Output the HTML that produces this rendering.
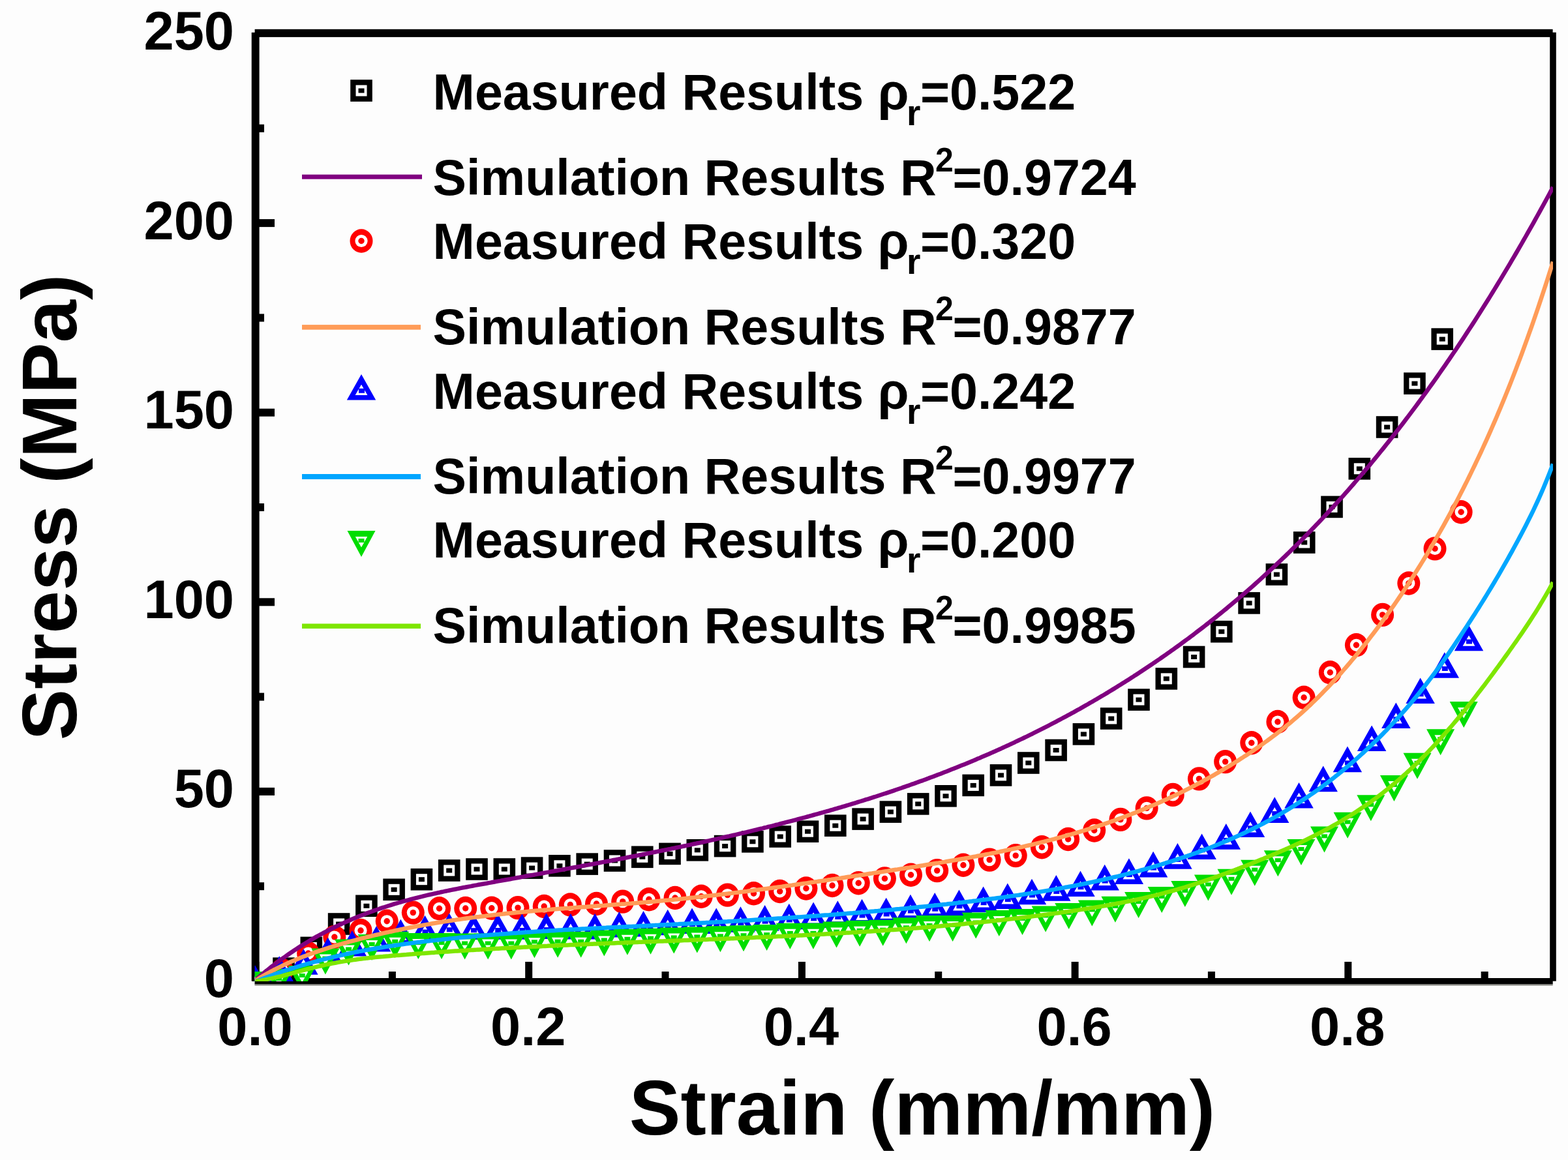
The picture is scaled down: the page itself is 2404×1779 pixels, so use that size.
<!DOCTYPE html>
<html><head><meta charset="utf-8"><title>Stress-Strain</title>
<style>
html,body{margin:0;padding:0;background:#fff;overflow:hidden;}
svg{display:block;}
text{font-family:"Liberation Sans",Arial,sans-serif;font-weight:bold;fill:#000;}
</style></head><body>
<svg width="2404" height="1779" viewBox="0 0 2404 1779">
<rect x="0" y="0" width="2404" height="1779" fill="#fdfdfd"/>

<g fill="#000">
<rect x="390.6" y="44.8" width="1990" height="12.1"/>
<rect x="385.7" y="49.8" width="11.9" height="1454.8"/>
<rect x="390.5" y="1500" width="1990.2" height="9.6"/>
<rect x="2376.2" y="49.7" width="9.6" height="1455"/>
<rect x="390.5" y="1509.6" width="1990.2" height="2" fill="#8c8c86"/>
<rect x="386" y="1353.2" width="19" height="12"/>
<rect x="386" y="1207.9" width="35" height="12"/>
<rect x="386" y="1062.6" width="19" height="12"/>
<rect x="386" y="917.3" width="35" height="12"/>
<rect x="386" y="772.0" width="19" height="12"/>
<rect x="386" y="626.7" width="35" height="12"/>
<rect x="386" y="481.4" width="19" height="12"/>
<rect x="386" y="336.1" width="35" height="12"/>
<rect x="386" y="190.8" width="19" height="12"/>
<rect x="386.5" y="1475" width="11" height="30"/>
<rect x="595.9" y="1490" width="11" height="15"/>
<rect x="805.2" y="1475" width="11" height="30"/>
<rect x="1014.5" y="1490" width="11" height="15"/>
<rect x="1223.9" y="1475" width="11" height="30"/>
<rect x="1433.2" y="1490" width="11" height="15"/>
<rect x="1642.6" y="1475" width="11" height="30"/>
<rect x="1851.9" y="1490" width="11" height="15"/>
<rect x="2061.3" y="1475" width="11" height="30"/>
<rect x="2270.7" y="1490" width="11" height="15"/>
</g>
<defs>
<clipPath id="pc"><rect x="390.5" y="51" width="1990.5" height="1454"/></clipPath>
<g id="msq"><rect x="-16.8" y="-16.8" width="33.6" height="33.6" fill="#000"/><rect x="-8.5" y="-8.5" width="17" height="17" fill="#fff"/><rect x="-4.5" y="-3.5" width="9" height="7" fill="#000"/></g>
<g id="mci"><ellipse rx="17.5" ry="18.2" fill="#ff0000"/><circle r="9.6" fill="#fff"/><circle r="4.7" fill="#ff0000"/></g>
<g id="mut"><polygon points="0,-19.8 -22.2,19.8 22.2,19.8" fill="#0000ff"/><polygon points="0,-4 -9.4,12.3 9.4,12.3" fill="#fff"/><rect x="-4" y="2" width="9" height="7" fill="#0000ff"/></g>
<g id="mdt"><polygon points="0,20 -21.5,-20 21.5,-20" fill="#00dd00"/><polygon points="0,5.5 -9.2,-11 9.2,-11" fill="#fff"/><rect x="-4.5" y="-8" width="9" height="6" fill="#00dd00"/></g>
</defs>
<g clip-path="url(#pc)">
<use href="#msq" x="392.7" y="1530.0"/>
<use href="#msq" x="435.0" y="1485.2"/>
<use href="#msq" x="477.3" y="1453.4"/>
<use href="#msq" x="519.6" y="1417.0"/>
<use href="#msq" x="561.9" y="1389.3"/>
<use href="#msq" x="604.1" y="1364.3"/>
<use href="#msq" x="646.4" y="1348.7"/>
<use href="#msq" x="688.7" y="1335.0"/>
<use href="#msq" x="731.0" y="1333.0"/>
<use href="#msq" x="773.3" y="1333.0"/>
<use href="#msq" x="815.6" y="1331.1"/>
<use href="#msq" x="857.9" y="1327.8"/>
<use href="#msq" x="900.2" y="1325.1"/>
<use href="#msq" x="942.5" y="1320.0"/>
<use href="#msq" x="984.8" y="1314.3"/>
<use href="#msq" x="1027.0" y="1309.4"/>
<use href="#msq" x="1069.3" y="1303.8"/>
<use href="#msq" x="1111.6" y="1297.6"/>
<use href="#msq" x="1153.9" y="1290.8"/>
<use href="#msq" x="1196.2" y="1283.0"/>
<use href="#msq" x="1238.5" y="1275.2"/>
<use href="#msq" x="1280.8" y="1266.2"/>
<use href="#msq" x="1323.1" y="1256.1"/>
<use href="#msq" x="1365.4" y="1245.1"/>
<use href="#msq" x="1407.7" y="1232.9"/>
<use href="#msq" x="1450.0" y="1220.8"/>
<use href="#msq" x="1492.2" y="1204.4"/>
<use href="#msq" x="1534.5" y="1188.9"/>
<use href="#msq" x="1576.8" y="1170.0"/>
<use href="#msq" x="1619.1" y="1150.5"/>
<use href="#msq" x="1661.4" y="1125.9"/>
<use href="#msq" x="1703.7" y="1102.0"/>
<use href="#msq" x="1746.0" y="1073.1"/>
<use href="#msq" x="1788.3" y="1040.9"/>
<use href="#msq" x="1830.6" y="1007.5"/>
<use href="#msq" x="1872.8" y="968.7"/>
<use href="#msq" x="1915.1" y="924.9"/>
<use href="#msq" x="1957.4" y="881.0"/>
<use href="#msq" x="1999.7" y="832.0"/>
<use href="#msq" x="2042.0" y="777.4"/>
<use href="#msq" x="2084.3" y="718.8"/>
<use href="#msq" x="2126.6" y="655.0"/>
<use href="#msq" x="2168.9" y="588.1"/>
<use href="#msq" x="2211.2" y="520.1"/>
<use href="#mci" x="392.3" y="1530.0"/>
<use href="#mci" x="432.5" y="1488.0"/>
<use href="#mci" x="472.6" y="1462.0"/>
<use href="#mci" x="512.8" y="1437.0"/>
<use href="#mci" x="553.0" y="1427.0"/>
<use href="#mci" x="593.2" y="1412.8"/>
<use href="#mci" x="633.3" y="1399.6"/>
<use href="#mci" x="673.5" y="1393.3"/>
<use href="#mci" x="713.7" y="1393.0"/>
<use href="#mci" x="753.8" y="1392.7"/>
<use href="#mci" x="794.0" y="1392.1"/>
<use href="#mci" x="834.2" y="1390.0"/>
<use href="#mci" x="874.3" y="1387.5"/>
<use href="#mci" x="914.5" y="1386.0"/>
<use href="#mci" x="954.7" y="1382.6"/>
<use href="#mci" x="994.9" y="1379.3"/>
<use href="#mci" x="1035.0" y="1377.0"/>
<use href="#mci" x="1075.2" y="1374.8"/>
<use href="#mci" x="1115.4" y="1372.6"/>
<use href="#mci" x="1155.5" y="1370.3"/>
<use href="#mci" x="1195.7" y="1367.0"/>
<use href="#mci" x="1235.9" y="1362.5"/>
<use href="#mci" x="1276.0" y="1358.0"/>
<use href="#mci" x="1316.2" y="1354.2"/>
<use href="#mci" x="1356.4" y="1347.4"/>
<use href="#mci" x="1396.5" y="1341.8"/>
<use href="#mci" x="1436.7" y="1335.1"/>
<use href="#mci" x="1476.9" y="1326.7"/>
<use href="#mci" x="1517.1" y="1318.6"/>
<use href="#mci" x="1557.2" y="1312.1"/>
<use href="#mci" x="1597.4" y="1299.2"/>
<use href="#mci" x="1637.6" y="1287.0"/>
<use href="#mci" x="1677.7" y="1273.5"/>
<use href="#mci" x="1717.9" y="1256.9"/>
<use href="#mci" x="1758.1" y="1239.4"/>
<use href="#mci" x="1798.2" y="1218.9"/>
<use href="#mci" x="1838.4" y="1194.4"/>
<use href="#mci" x="1878.6" y="1168.1"/>
<use href="#mci" x="1918.8" y="1139.2"/>
<use href="#mci" x="1958.9" y="1107.0"/>
<use href="#mci" x="1999.1" y="1069.8"/>
<use href="#mci" x="2039.3" y="1031.3"/>
<use href="#mci" x="2079.4" y="989.3"/>
<use href="#mci" x="2119.6" y="942.9"/>
<use href="#mci" x="2159.8" y="894.5"/>
<use href="#mci" x="2200.0" y="841.4"/>
<use href="#mci" x="2240.1" y="785.3"/>
<use href="#mut" x="391.0" y="1500.0"/>
<use href="#mut" x="428.2" y="1486.0"/>
<use href="#mut" x="465.4" y="1475.0"/>
<use href="#mut" x="502.7" y="1457.5"/>
<use href="#mut" x="539.9" y="1446.7"/>
<use href="#mut" x="577.1" y="1439.7"/>
<use href="#mut" x="614.3" y="1429.5"/>
<use href="#mut" x="651.5" y="1423.6"/>
<use href="#mut" x="688.8" y="1420.3"/>
<use href="#mut" x="726.0" y="1421.2"/>
<use href="#mut" x="763.2" y="1421.0"/>
<use href="#mut" x="800.4" y="1421.0"/>
<use href="#mut" x="837.6" y="1420.1"/>
<use href="#mut" x="874.9" y="1420.6"/>
<use href="#mut" x="912.1" y="1420.6"/>
<use href="#mut" x="949.3" y="1417.8"/>
<use href="#mut" x="986.5" y="1416.7"/>
<use href="#mut" x="1023.7" y="1414.5"/>
<use href="#mut" x="1061.0" y="1412.2"/>
<use href="#mut" x="1098.2" y="1412.2"/>
<use href="#mut" x="1135.4" y="1410.0"/>
<use href="#mut" x="1172.6" y="1407.7"/>
<use href="#mut" x="1209.8" y="1405.5"/>
<use href="#mut" x="1247.1" y="1403.3"/>
<use href="#mut" x="1284.3" y="1401.0"/>
<use href="#mut" x="1321.5" y="1398.6"/>
<use href="#mut" x="1358.7" y="1396.5"/>
<use href="#mut" x="1395.9" y="1391.6"/>
<use href="#mut" x="1433.2" y="1388.7"/>
<use href="#mut" x="1470.4" y="1384.3"/>
<use href="#mut" x="1507.6" y="1379.2"/>
<use href="#mut" x="1544.8" y="1374.2"/>
<use href="#mut" x="1582.0" y="1367.5"/>
<use href="#mut" x="1619.3" y="1361.9"/>
<use href="#mut" x="1656.5" y="1355.2"/>
<use href="#mut" x="1693.7" y="1345.6"/>
<use href="#mut" x="1730.9" y="1336.1"/>
<use href="#mut" x="1768.1" y="1325.6"/>
<use href="#mut" x="1805.4" y="1312.9"/>
<use href="#mut" x="1842.6" y="1298.3"/>
<use href="#mut" x="1879.8" y="1282.9"/>
<use href="#mut" x="1917.0" y="1264.3"/>
<use href="#mut" x="1954.2" y="1242.1"/>
<use href="#mut" x="1991.5" y="1219.8"/>
<use href="#mut" x="2028.7" y="1194.4"/>
<use href="#mut" x="2065.9" y="1164.4"/>
<use href="#mut" x="2103.1" y="1132.2"/>
<use href="#mut" x="2140.3" y="1097.3"/>
<use href="#mut" x="2177.6" y="1059.2"/>
<use href="#mut" x="2214.8" y="1020.0"/>
<use href="#mut" x="2252.0" y="978.5"/>
<use href="#mdt" x="392.0" y="1510.0"/>
<use href="#mdt" x="427.6" y="1506.0"/>
<use href="#mdt" x="463.2" y="1501.0"/>
<use href="#mdt" x="498.9" y="1474.6"/>
<use href="#mdt" x="534.5" y="1460.5"/>
<use href="#mdt" x="570.1" y="1453.0"/>
<use href="#mdt" x="605.7" y="1448.7"/>
<use href="#mdt" x="641.3" y="1451.1"/>
<use href="#mdt" x="677.0" y="1451.1"/>
<use href="#mdt" x="712.6" y="1451.5"/>
<use href="#mdt" x="748.2" y="1451.5"/>
<use href="#mdt" x="783.8" y="1451.5"/>
<use href="#mdt" x="819.4" y="1449.3"/>
<use href="#mdt" x="855.1" y="1448.7"/>
<use href="#mdt" x="890.7" y="1448.7"/>
<use href="#mdt" x="926.3" y="1446.5"/>
<use href="#mdt" x="961.9" y="1444.8"/>
<use href="#mdt" x="997.5" y="1443.7"/>
<use href="#mdt" x="1033.2" y="1442.5"/>
<use href="#mdt" x="1068.8" y="1441.4"/>
<use href="#mdt" x="1104.4" y="1440.3"/>
<use href="#mdt" x="1140.0" y="1439.2"/>
<use href="#mdt" x="1175.6" y="1438.1"/>
<use href="#mdt" x="1211.3" y="1435.8"/>
<use href="#mdt" x="1246.9" y="1435.8"/>
<use href="#mdt" x="1282.5" y="1433.6"/>
<use href="#mdt" x="1318.1" y="1431.8"/>
<use href="#mdt" x="1353.7" y="1430.7"/>
<use href="#mdt" x="1389.4" y="1427.3"/>
<use href="#mdt" x="1425.0" y="1424.0"/>
<use href="#mdt" x="1460.6" y="1424.0"/>
<use href="#mdt" x="1496.2" y="1419.5"/>
<use href="#mdt" x="1531.8" y="1416.1"/>
<use href="#mdt" x="1567.5" y="1413.9"/>
<use href="#mdt" x="1603.1" y="1409.4"/>
<use href="#mdt" x="1638.7" y="1404.9"/>
<use href="#mdt" x="1674.3" y="1400.4"/>
<use href="#mdt" x="1709.9" y="1394.8"/>
<use href="#mdt" x="1745.6" y="1388.1"/>
<use href="#mdt" x="1781.2" y="1380.0"/>
<use href="#mdt" x="1816.8" y="1371.0"/>
<use href="#mdt" x="1852.4" y="1361.4"/>
<use href="#mdt" x="1888.0" y="1352.8"/>
<use href="#mdt" x="1923.7" y="1338.7"/>
<use href="#mdt" x="1959.3" y="1324.2"/>
<use href="#mdt" x="1994.9" y="1307.0"/>
<use href="#mdt" x="2030.5" y="1287.4"/>
<use href="#mdt" x="2066.1" y="1265.7"/>
<use href="#mdt" x="2101.8" y="1239.3"/>
<use href="#mdt" x="2137.4" y="1208.9"/>
<use href="#mdt" x="2173.0" y="1174.8"/>
<use href="#mdt" x="2208.6" y="1138.3"/>
<use href="#mdt" x="2244.2" y="1096.0"/>
<path d="M392.0,1504.5 L395.0,1500.2 L398.0,1497.6 L401.0,1495.1 L404.0,1492.6 L407.0,1490.1 L410.0,1487.7 L413.0,1485.3 L416.0,1482.9 L419.0,1480.6 L422.0,1478.3 L425.0,1476.0 L428.0,1473.8 L431.0,1471.6 L434.0,1469.4 L437.0,1467.3 L440.0,1465.1 L443.0,1463.0 L446.0,1461.0 L449.0,1459.0 L452.0,1456.9 L455.0,1455.0 L458.0,1453.0 L461.0,1451.1 L464.0,1449.2 L467.0,1447.4 L470.0,1445.5 L473.0,1443.7 L476.0,1441.9 L479.0,1440.2 L482.0,1438.4 L485.0,1436.7 L488.0,1435.0 L491.0,1433.4 L494.0,1431.8 L497.0,1430.1 L500.0,1428.6 L503.0,1427.0 L506.0,1425.5 L509.0,1424.0 L512.0,1422.5 L515.0,1421.0 L518.0,1419.6 L521.0,1418.1 L524.0,1416.7 L527.0,1415.4 L530.0,1414.0 L533.0,1412.7 L536.0,1411.4 L539.0,1410.1 L542.0,1408.8 L545.0,1407.5 L548.0,1406.3 L551.0,1405.1 L554.0,1403.9 L557.0,1402.7 L560.0,1401.6 L563.0,1400.4 L566.0,1399.3 L569.0,1398.2 L572.0,1397.1 L575.0,1396.0 L578.0,1395.0 L581.0,1394.0 L584.0,1392.9 L587.0,1391.9 L590.0,1391.0 L593.0,1390.0 L596.0,1389.0 L599.0,1388.1 L602.0,1387.2 L605.0,1386.2 L608.0,1385.4 L611.0,1384.5 L614.0,1383.6 L617.0,1382.7 L620.0,1381.9 L623.0,1381.1 L626.0,1380.3 L629.0,1379.5 L632.0,1378.7 L635.0,1377.9 L638.0,1377.1 L641.0,1376.3 L644.0,1375.6 L647.0,1374.9 L650.0,1374.1 L653.0,1373.4 L656.0,1372.7 L659.0,1372.0 L662.0,1371.3 L665.0,1370.6 L668.0,1370.0 L671.0,1369.3 L674.0,1368.7 L677.0,1368.0 L680.0,1367.4 L683.0,1366.7 L686.0,1366.1 L689.0,1365.5 L692.0,1364.9 L695.0,1364.3 L698.0,1363.7 L701.0,1363.1 L704.0,1362.5 L707.0,1361.9 L710.0,1361.3 L713.0,1360.8 L716.0,1360.2 L719.0,1359.6 L722.0,1359.1 L725.0,1358.5 L728.0,1357.9 L731.0,1357.4 L734.0,1356.8 L737.0,1356.3 L740.0,1355.7 L743.0,1355.2 L746.0,1354.7 L749.0,1354.1 L752.0,1353.6 L755.0,1353.0 L758.0,1352.5 L761.0,1351.9 L764.0,1351.4 L767.0,1350.9 L770.0,1350.3 L773.0,1349.8 L776.0,1349.2 L779.0,1348.7 L782.0,1348.2 L785.0,1347.6 L788.0,1347.1 L791.0,1346.5 L794.0,1346.0 L797.0,1345.5 L800.0,1344.9 L803.0,1344.4 L806.0,1343.8 L809.0,1343.3 L812.0,1342.8 L815.0,1342.2 L818.0,1341.7 L821.0,1341.1 L824.0,1340.6 L827.0,1340.1 L830.0,1339.5 L833.0,1339.0 L836.0,1338.4 L839.0,1337.9 L842.0,1337.4 L845.0,1336.8 L848.0,1336.3 L851.0,1335.7 L854.0,1335.2 L857.0,1334.6 L860.0,1334.1 L863.0,1333.5 L866.0,1333.0 L869.0,1332.4 L872.0,1331.9 L875.0,1331.3 L878.0,1330.8 L881.0,1330.2 L884.0,1329.7 L887.0,1329.1 L890.0,1328.6 L893.0,1328.0 L896.0,1327.5 L899.0,1326.9 L902.0,1326.4 L905.0,1325.8 L908.0,1325.3 L911.0,1324.7 L914.0,1324.1 L917.0,1323.6 L920.0,1323.0 L923.0,1322.4 L926.0,1321.9 L929.0,1321.3 L932.0,1320.7 L935.0,1320.2 L938.0,1319.6 L941.0,1319.0 L944.0,1318.5 L947.0,1317.9 L950.0,1317.3 L953.0,1316.7 L956.0,1316.2 L959.0,1315.6 L962.0,1315.0 L965.0,1314.4 L968.0,1313.8 L971.0,1313.3 L974.0,1312.7 L977.0,1312.1 L980.0,1311.5 L983.0,1310.9 L986.0,1310.3 L989.0,1309.7 L992.0,1309.1 L995.0,1308.5 L998.0,1307.9 L1001.0,1307.3 L1004.0,1306.7 L1007.0,1306.1 L1010.0,1305.5 L1013.0,1304.9 L1016.0,1304.3 L1019.0,1303.7 L1022.0,1303.1 L1025.0,1302.5 L1028.0,1301.9 L1031.0,1301.2 L1034.0,1300.6 L1037.0,1300.0 L1040.0,1299.4 L1043.0,1298.8 L1046.0,1298.1 L1049.0,1297.5 L1052.0,1296.9 L1055.0,1296.2 L1058.0,1295.6 L1061.0,1294.9 L1064.0,1294.3 L1067.0,1293.7 L1070.0,1293.0 L1073.0,1292.4 L1076.0,1291.7 L1079.0,1291.1 L1082.0,1290.4 L1085.0,1289.8 L1088.0,1289.1 L1091.0,1288.4 L1094.0,1287.8 L1097.0,1287.1 L1100.0,1286.4 L1103.0,1285.8 L1106.0,1285.1 L1109.0,1284.4 L1112.0,1283.7 L1115.0,1283.0 L1118.0,1282.4 L1121.0,1281.7 L1124.0,1281.0 L1127.0,1280.3 L1130.0,1279.6 L1133.0,1278.9 L1136.0,1278.2 L1139.0,1277.5 L1142.0,1276.8 L1145.0,1276.1 L1148.0,1275.3 L1151.0,1274.6 L1154.0,1273.9 L1157.0,1273.2 L1160.0,1272.5 L1163.0,1271.7 L1166.0,1271.0 L1169.0,1270.3 L1172.0,1269.5 L1175.0,1268.8 L1178.0,1268.0 L1181.0,1267.3 L1184.0,1266.6 L1187.0,1265.8 L1190.0,1265.0 L1193.0,1264.3 L1196.0,1263.5 L1199.0,1262.7 L1202.0,1262.0 L1205.0,1261.2 L1208.0,1260.4 L1211.0,1259.6 L1214.0,1258.9 L1217.0,1258.1 L1220.0,1257.3 L1223.0,1256.5 L1226.0,1255.7 L1229.0,1254.9 L1232.0,1254.1 L1235.0,1253.3 L1238.0,1252.5 L1241.0,1251.7 L1244.0,1250.8 L1247.0,1250.0 L1250.0,1249.2 L1253.0,1248.4 L1256.0,1247.5 L1259.0,1246.7 L1262.0,1245.8 L1265.0,1245.0 L1268.0,1244.1 L1271.0,1243.3 L1274.0,1242.4 L1277.0,1241.6 L1280.0,1240.7 L1283.0,1239.8 L1286.0,1238.9 L1289.0,1238.1 L1292.0,1237.2 L1295.0,1236.3 L1298.0,1235.4 L1301.0,1234.5 L1304.0,1233.6 L1307.0,1232.7 L1310.0,1231.8 L1313.0,1230.9 L1316.0,1229.9 L1319.0,1229.0 L1322.0,1228.1 L1325.0,1227.2 L1328.0,1226.2 L1331.0,1225.3 L1334.0,1224.3 L1337.0,1223.4 L1340.0,1222.4 L1343.0,1221.5 L1346.0,1220.5 L1349.0,1219.5 L1352.0,1218.5 L1355.0,1217.5 L1358.0,1216.6 L1361.0,1215.6 L1364.0,1214.6 L1367.0,1213.6 L1370.0,1212.6 L1373.0,1211.5 L1376.0,1210.5 L1379.0,1209.5 L1382.0,1208.5 L1385.0,1207.4 L1388.0,1206.4 L1391.0,1205.3 L1394.0,1204.3 L1397.0,1203.2 L1400.0,1202.2 L1403.0,1201.1 L1406.0,1200.0 L1409.0,1198.9 L1412.0,1197.8 L1415.0,1196.8 L1418.0,1195.7 L1421.0,1194.6 L1424.0,1193.4 L1427.0,1192.3 L1430.0,1191.2 L1433.0,1190.1 L1436.0,1188.9 L1439.0,1187.8 L1442.0,1186.7 L1445.0,1185.5 L1448.0,1184.3 L1451.0,1183.2 L1454.0,1182.0 L1457.0,1180.8 L1460.0,1179.6 L1463.0,1178.4 L1466.0,1177.3 L1469.0,1176.0 L1472.0,1174.8 L1475.0,1173.6 L1478.0,1172.4 L1481.0,1171.2 L1484.0,1169.9 L1487.0,1168.7 L1490.0,1167.4 L1493.0,1166.2 L1496.0,1164.9 L1499.0,1163.6 L1502.0,1162.4 L1505.0,1161.1 L1508.0,1159.8 L1511.0,1158.5 L1514.0,1157.2 L1517.0,1155.9 L1520.0,1154.6 L1523.0,1153.2 L1526.0,1151.9 L1529.0,1150.6 L1532.0,1149.2 L1535.0,1147.9 L1538.0,1146.5 L1541.0,1145.1 L1544.0,1143.7 L1547.0,1142.4 L1550.0,1141.0 L1553.0,1139.6 L1556.0,1138.2 L1559.0,1136.7 L1562.0,1135.3 L1565.0,1133.9 L1568.0,1132.5 L1571.0,1131.0 L1574.0,1129.6 L1577.0,1128.1 L1580.0,1126.6 L1583.0,1125.2 L1586.0,1123.7 L1589.0,1122.2 L1592.0,1120.7 L1595.0,1119.2 L1598.0,1117.7 L1601.0,1116.1 L1604.0,1114.6 L1607.0,1113.1 L1610.0,1111.5 L1613.0,1109.9 L1616.0,1108.4 L1619.0,1106.8 L1622.0,1105.2 L1625.0,1103.6 L1628.0,1102.0 L1631.0,1100.4 L1634.0,1098.8 L1637.0,1097.2 L1640.0,1095.6 L1643.0,1093.9 L1646.0,1092.3 L1649.0,1090.6 L1652.0,1088.9 L1655.0,1087.3 L1658.0,1085.6 L1661.0,1083.9 L1664.0,1082.2 L1667.0,1080.5 L1670.0,1078.7 L1673.0,1077.0 L1676.0,1075.3 L1679.0,1073.5 L1682.0,1071.8 L1685.0,1070.0 L1688.0,1068.2 L1691.0,1066.5 L1694.0,1064.7 L1697.0,1062.9 L1700.0,1061.0 L1703.0,1059.2 L1706.0,1057.4 L1709.0,1055.6 L1712.0,1053.7 L1715.0,1051.8 L1718.0,1050.0 L1721.0,1048.1 L1724.0,1046.2 L1727.0,1044.3 L1730.0,1042.4 L1733.0,1040.5 L1736.0,1038.6 L1739.0,1036.6 L1742.0,1034.7 L1745.0,1032.7 L1748.0,1030.8 L1751.0,1028.8 L1754.0,1026.8 L1757.0,1024.8 L1760.0,1022.8 L1763.0,1020.8 L1766.0,1018.8 L1769.0,1016.7 L1772.0,1014.7 L1775.0,1012.6 L1778.0,1010.6 L1781.0,1008.5 L1784.0,1006.4 L1787.0,1004.3 L1790.0,1002.2 L1793.0,1000.1 L1796.0,997.9 L1799.0,995.8 L1802.0,993.6 L1805.0,991.5 L1808.0,989.3 L1811.0,987.1 L1814.0,984.9 L1817.0,982.7 L1820.0,980.5 L1823.0,978.3 L1826.0,976.0 L1829.0,973.8 L1832.0,971.5 L1835.0,969.2 L1838.0,966.9 L1841.0,964.6 L1844.0,962.3 L1847.0,960.0 L1850.0,957.6 L1853.0,955.3 L1856.0,952.9 L1859.0,950.5 L1862.0,948.2 L1865.0,945.8 L1868.0,943.3 L1871.0,940.9 L1874.0,938.5 L1877.0,936.0 L1880.0,933.6 L1883.0,931.1 L1886.0,928.6 L1889.0,926.1 L1892.0,923.6 L1895.0,921.0 L1898.0,918.5 L1901.0,915.9 L1904.0,913.4 L1907.0,910.8 L1910.0,908.2 L1913.0,905.6 L1916.0,903.0 L1919.0,900.3 L1922.0,897.7 L1925.0,895.0 L1928.0,892.3 L1931.0,889.6 L1934.0,886.9 L1937.0,884.2 L1940.0,881.5 L1943.0,878.7 L1946.0,875.9 L1949.0,873.2 L1952.0,870.4 L1955.0,867.6 L1958.0,864.7 L1961.0,861.9 L1964.0,859.0 L1967.0,856.2 L1970.0,853.3 L1973.0,850.4 L1976.0,847.5 L1979.0,844.6 L1982.0,841.6 L1985.0,838.7 L1988.0,835.7 L1991.0,832.7 L1994.0,829.7 L1997.0,826.7 L2000.0,823.6 L2003.0,820.6 L2006.0,817.5 L2009.0,814.4 L2012.0,811.3 L2015.0,808.2 L2018.0,805.1 L2021.0,802.0 L2024.0,798.8 L2027.0,795.6 L2030.0,792.4 L2033.0,789.2 L2036.0,786.0 L2039.0,782.7 L2042.0,779.5 L2045.0,776.2 L2048.0,772.9 L2051.0,769.6 L2054.0,766.3 L2057.0,762.9 L2060.0,759.6 L2063.0,756.2 L2066.0,752.8 L2069.0,749.4 L2072.0,745.9 L2075.0,742.5 L2078.0,739.0 L2081.0,735.5 L2084.0,732.0 L2087.0,728.5 L2090.0,725.0 L2093.0,721.4 L2096.0,717.9 L2099.0,714.3 L2102.0,710.7 L2105.0,707.0 L2108.0,703.4 L2111.0,699.7 L2114.0,696.0 L2117.0,692.3 L2120.0,688.6 L2123.0,684.9 L2126.0,681.1 L2129.0,677.4 L2132.0,673.6 L2135.0,669.8 L2138.0,665.9 L2141.0,662.1 L2144.0,658.2 L2147.0,654.3 L2150.0,650.4 L2153.0,646.5 L2156.0,642.6 L2159.0,638.6 L2162.0,634.6 L2165.0,630.6 L2168.0,626.6 L2171.0,622.6 L2174.0,618.5 L2177.0,614.4 L2180.0,610.3 L2183.0,606.2 L2186.0,602.1 L2189.0,597.9 L2192.0,593.7 L2195.0,589.5 L2198.0,585.3 L2201.0,581.1 L2204.0,576.8 L2207.0,572.5 L2210.0,568.2 L2213.0,563.9 L2216.0,559.6 L2219.0,555.2 L2222.0,550.8 L2225.0,546.4 L2228.0,542.0 L2231.0,537.6 L2234.0,533.1 L2237.0,528.6 L2240.0,524.1 L2243.0,519.6 L2246.0,515.0 L2249.0,510.4 L2252.0,505.8 L2255.0,501.2 L2258.0,496.6 L2261.0,491.9 L2264.0,487.3 L2267.0,482.6 L2270.0,477.8 L2273.0,473.1 L2276.0,468.3 L2279.0,463.5 L2282.0,458.7 L2285.0,453.9 L2288.0,449.0 L2291.0,444.1 L2294.0,439.2 L2297.0,434.3 L2300.0,429.4 L2303.0,424.4 L2306.0,419.4 L2309.0,414.4 L2312.0,409.4 L2315.0,404.3 L2318.0,399.2 L2321.0,394.1 L2324.0,389.0 L2327.0,383.8 L2330.0,378.7 L2333.0,373.5 L2336.0,368.2 L2339.0,363.0 L2342.0,357.7 L2345.0,352.4 L2348.0,347.1 L2351.0,341.8 L2354.0,336.4 L2357.0,331.0 L2360.0,325.6 L2363.0,320.2 L2366.0,314.7 L2369.0,309.2 L2372.0,303.7 L2375.0,298.2 L2378.0,292.6 L2381.0,287.0" fill="none" stroke="#800080" stroke-width="6.5" stroke-linejoin="round"/>
<path d="M392.0,1504.5 L395.0,1501.8 L398.0,1499.9 L401.0,1498.1 L404.0,1496.3 L407.0,1494.6 L410.0,1492.9 L413.0,1491.3 L416.0,1489.6 L419.0,1488.0 L422.0,1486.5 L425.0,1484.9 L428.0,1483.4 L431.0,1482.0 L434.0,1480.5 L437.0,1479.1 L440.0,1477.7 L443.0,1476.3 L446.0,1475.0 L449.0,1473.7 L452.0,1472.4 L455.0,1471.2 L458.0,1469.9 L461.0,1468.7 L464.0,1467.5 L467.0,1466.4 L470.0,1465.2 L473.0,1464.1 L476.0,1463.0 L479.0,1461.9 L482.0,1460.8 L485.0,1459.8 L488.0,1458.8 L491.0,1457.8 L494.0,1456.8 L497.0,1455.8 L500.0,1454.8 L503.0,1453.9 L506.0,1452.9 L509.0,1452.0 L512.0,1451.1 L515.0,1450.2 L518.0,1449.3 L521.0,1448.4 L524.0,1447.6 L527.0,1446.7 L530.0,1445.9 L533.0,1445.0 L536.0,1444.2 L539.0,1443.4 L542.0,1442.6 L545.0,1441.8 L548.0,1441.0 L551.0,1440.2 L554.0,1439.4 L557.0,1438.6 L560.0,1437.9 L563.0,1437.1 L566.0,1436.4 L569.0,1435.6 L572.0,1434.9 L575.0,1434.2 L578.0,1433.5 L581.0,1432.8 L584.0,1432.1 L587.0,1431.4 L590.0,1430.7 L593.0,1430.0 L596.0,1429.4 L599.0,1428.7 L602.0,1428.1 L605.0,1427.4 L608.0,1426.8 L611.0,1426.2 L614.0,1425.5 L617.0,1424.9 L620.0,1424.3 L623.0,1423.7 L626.0,1423.1 L629.0,1422.5 L632.0,1422.0 L635.0,1421.4 L638.0,1420.8 L641.0,1420.3 L644.0,1419.7 L647.0,1419.2 L650.0,1418.6 L653.0,1418.1 L656.0,1417.6 L659.0,1417.1 L662.0,1416.5 L665.0,1416.0 L668.0,1415.5 L671.0,1415.0 L674.0,1414.6 L677.0,1414.1 L680.0,1413.6 L683.0,1413.1 L686.0,1412.7 L689.0,1412.2 L692.0,1411.7 L695.0,1411.3 L698.0,1410.9 L701.0,1410.4 L704.0,1410.0 L707.0,1409.6 L710.0,1409.1 L713.0,1408.7 L716.0,1408.3 L719.0,1407.9 L722.0,1407.5 L725.0,1407.1 L728.0,1406.7 L731.0,1406.3 L734.0,1406.0 L737.0,1405.6 L740.0,1405.2 L743.0,1404.9 L746.0,1404.5 L749.0,1404.1 L752.0,1403.8 L755.0,1403.4 L758.0,1403.1 L761.0,1402.8 L764.0,1402.4 L767.0,1402.1 L770.0,1401.8 L773.0,1401.4 L776.0,1401.1 L779.0,1400.8 L782.0,1400.5 L785.0,1400.2 L788.0,1399.9 L791.0,1399.6 L794.0,1399.3 L797.0,1399.0 L800.0,1398.7 L803.0,1398.4 L806.0,1398.2 L809.0,1397.9 L812.0,1397.6 L815.0,1397.3 L818.0,1397.1 L821.0,1396.8 L824.0,1396.5 L827.0,1396.3 L830.0,1396.0 L833.0,1395.8 L836.0,1395.5 L839.0,1395.3 L842.0,1395.0 L845.0,1394.8 L848.0,1394.5 L851.0,1394.3 L854.0,1394.1 L857.0,1393.8 L860.0,1393.6 L863.0,1393.4 L866.0,1393.1 L869.0,1392.9 L872.0,1392.7 L875.0,1392.4 L878.0,1392.2 L881.0,1392.0 L884.0,1391.8 L887.0,1391.5 L890.0,1391.3 L893.0,1391.1 L896.0,1390.9 L899.0,1390.7 L902.0,1390.4 L905.0,1390.2 L908.0,1390.0 L911.0,1389.8 L914.0,1389.5 L917.0,1389.3 L920.0,1389.1 L923.0,1388.9 L926.0,1388.7 L929.0,1388.4 L932.0,1388.2 L935.0,1388.0 L938.0,1387.8 L941.0,1387.5 L944.0,1387.3 L947.0,1387.1 L950.0,1386.9 L953.0,1386.6 L956.0,1386.4 L959.0,1386.2 L962.0,1385.9 L965.0,1385.7 L968.0,1385.5 L971.0,1385.2 L974.0,1385.0 L977.0,1384.7 L980.0,1384.5 L983.0,1384.2 L986.0,1384.0 L989.0,1383.7 L992.0,1383.5 L995.0,1383.2 L998.0,1382.9 L1001.0,1382.7 L1004.0,1382.4 L1007.0,1382.1 L1010.0,1381.9 L1013.0,1381.6 L1016.0,1381.3 L1019.0,1381.0 L1022.0,1380.7 L1025.0,1380.5 L1028.0,1380.2 L1031.0,1379.9 L1034.0,1379.6 L1037.0,1379.3 L1040.0,1379.0 L1043.0,1378.7 L1046.0,1378.4 L1049.0,1378.1 L1052.0,1377.7 L1055.0,1377.4 L1058.0,1377.1 L1061.0,1376.8 L1064.0,1376.5 L1067.0,1376.1 L1070.0,1375.8 L1073.0,1375.5 L1076.0,1375.1 L1079.0,1374.8 L1082.0,1374.5 L1085.0,1374.1 L1088.0,1373.8 L1091.0,1373.4 L1094.0,1373.1 L1097.0,1372.7 L1100.0,1372.4 L1103.0,1372.0 L1106.0,1371.7 L1109.0,1371.3 L1112.0,1371.0 L1115.0,1370.6 L1118.0,1370.2 L1121.0,1369.9 L1124.0,1369.5 L1127.0,1369.1 L1130.0,1368.8 L1133.0,1368.4 L1136.0,1368.0 L1139.0,1367.6 L1142.0,1367.2 L1145.0,1366.9 L1148.0,1366.5 L1151.0,1366.1 L1154.0,1365.7 L1157.0,1365.3 L1160.0,1364.9 L1163.0,1364.5 L1166.0,1364.1 L1169.0,1363.7 L1172.0,1363.3 L1175.0,1362.9 L1178.0,1362.5 L1181.0,1362.1 L1184.0,1361.7 L1187.0,1361.3 L1190.0,1360.9 L1193.0,1360.5 L1196.0,1360.1 L1199.0,1359.7 L1202.0,1359.2 L1205.0,1358.8 L1208.0,1358.4 L1211.0,1358.0 L1214.0,1357.6 L1217.0,1357.1 L1220.0,1356.7 L1223.0,1356.3 L1226.0,1355.9 L1229.0,1355.4 L1232.0,1355.0 L1235.0,1354.6 L1238.0,1354.2 L1241.0,1353.7 L1244.0,1353.3 L1247.0,1352.9 L1250.0,1352.4 L1253.0,1352.0 L1256.0,1351.5 L1259.0,1351.1 L1262.0,1350.7 L1265.0,1350.2 L1268.0,1349.8 L1271.0,1349.3 L1274.0,1348.9 L1277.0,1348.4 L1280.0,1348.0 L1283.0,1347.5 L1286.0,1347.1 L1289.0,1346.7 L1292.0,1346.2 L1295.0,1345.8 L1298.0,1345.3 L1301.0,1344.8 L1304.0,1344.4 L1307.0,1343.9 L1310.0,1343.5 L1313.0,1343.0 L1316.0,1342.6 L1319.0,1342.1 L1322.0,1341.7 L1325.0,1341.2 L1328.0,1340.8 L1331.0,1340.3 L1334.0,1339.8 L1337.0,1339.4 L1340.0,1338.9 L1343.0,1338.5 L1346.0,1338.0 L1349.0,1337.5 L1352.0,1337.1 L1355.0,1336.6 L1358.0,1336.1 L1361.0,1335.7 L1364.0,1335.2 L1367.0,1334.8 L1370.0,1334.3 L1373.0,1333.8 L1376.0,1333.4 L1379.0,1332.9 L1382.0,1332.4 L1385.0,1332.0 L1388.0,1331.5 L1391.0,1331.0 L1394.0,1330.6 L1397.0,1330.1 L1400.0,1329.6 L1403.0,1329.2 L1406.0,1328.7 L1409.0,1328.2 L1412.0,1327.7 L1415.0,1327.3 L1418.0,1326.8 L1421.0,1326.3 L1424.0,1325.8 L1427.0,1325.3 L1430.0,1324.8 L1433.0,1324.3 L1436.0,1323.8 L1439.0,1323.4 L1442.0,1322.9 L1445.0,1322.4 L1448.0,1321.9 L1451.0,1321.3 L1454.0,1320.8 L1457.0,1320.3 L1460.0,1319.8 L1463.0,1319.3 L1466.0,1318.8 L1469.0,1318.3 L1472.0,1317.7 L1475.0,1317.2 L1478.0,1316.7 L1481.0,1316.1 L1484.0,1315.6 L1487.0,1315.0 L1490.0,1314.5 L1493.0,1313.9 L1496.0,1313.4 L1499.0,1312.8 L1502.0,1312.3 L1505.0,1311.7 L1508.0,1311.1 L1511.0,1310.5 L1514.0,1309.9 L1517.0,1309.4 L1520.0,1308.8 L1523.0,1308.2 L1526.0,1307.6 L1529.0,1307.0 L1532.0,1306.4 L1535.0,1305.7 L1538.0,1305.1 L1541.0,1304.5 L1544.0,1303.9 L1547.0,1303.2 L1550.0,1302.6 L1553.0,1301.9 L1556.0,1301.3 L1559.0,1300.6 L1562.0,1299.9 L1565.0,1299.3 L1568.0,1298.6 L1571.0,1297.9 L1574.0,1297.2 L1577.0,1296.5 L1580.0,1295.8 L1583.0,1295.1 L1586.0,1294.4 L1589.0,1293.6 L1592.0,1292.9 L1595.0,1292.2 L1598.0,1291.4 L1601.0,1290.7 L1604.0,1289.9 L1607.0,1289.1 L1610.0,1288.4 L1613.0,1287.6 L1616.0,1286.8 L1619.0,1286.0 L1622.0,1285.2 L1625.0,1284.4 L1628.0,1283.6 L1631.0,1282.7 L1634.0,1281.9 L1637.0,1281.1 L1640.0,1280.2 L1643.0,1279.3 L1646.0,1278.5 L1649.0,1277.6 L1652.0,1276.7 L1655.0,1275.8 L1658.0,1274.9 L1661.0,1274.0 L1664.0,1273.1 L1667.0,1272.1 L1670.0,1271.2 L1673.0,1270.2 L1676.0,1269.3 L1679.0,1268.3 L1682.0,1267.3 L1685.0,1266.4 L1688.0,1265.4 L1691.0,1264.4 L1694.0,1263.3 L1697.0,1262.3 L1700.0,1261.3 L1703.0,1260.2 L1706.0,1259.2 L1709.0,1258.1 L1712.0,1257.0 L1715.0,1255.9 L1718.0,1254.8 L1721.0,1253.7 L1724.0,1252.6 L1727.0,1251.5 L1730.0,1250.3 L1733.0,1249.2 L1736.0,1248.0 L1739.0,1246.9 L1742.0,1245.7 L1745.0,1244.5 L1748.0,1243.3 L1751.0,1242.0 L1754.0,1240.8 L1757.0,1239.6 L1760.0,1238.3 L1763.0,1237.1 L1766.0,1235.8 L1769.0,1234.5 L1772.0,1233.2 L1775.0,1231.9 L1778.0,1230.5 L1781.0,1229.2 L1784.0,1227.8 L1787.0,1226.5 L1790.0,1225.1 L1793.0,1223.7 L1796.0,1222.3 L1799.0,1220.9 L1802.0,1219.5 L1805.0,1218.0 L1808.0,1216.6 L1811.0,1215.1 L1814.0,1213.6 L1817.0,1212.1 L1820.0,1210.6 L1823.0,1209.1 L1826.0,1207.6 L1829.0,1206.0 L1832.0,1204.5 L1835.0,1202.9 L1838.0,1201.3 L1841.0,1199.7 L1844.0,1198.1 L1847.0,1196.4 L1850.0,1194.8 L1853.0,1193.1 L1856.0,1191.4 L1859.0,1189.8 L1862.0,1188.1 L1865.0,1186.3 L1868.0,1184.6 L1871.0,1182.8 L1874.0,1181.1 L1877.0,1179.3 L1880.0,1177.5 L1883.0,1175.7 L1886.0,1173.9 L1889.0,1172.0 L1892.0,1170.2 L1895.0,1168.3 L1898.0,1166.4 L1901.0,1164.5 L1904.0,1162.6 L1907.0,1160.6 L1910.0,1158.7 L1913.0,1156.7 L1916.0,1154.7 L1919.0,1152.7 L1922.0,1150.7 L1925.0,1148.6 L1928.0,1146.5 L1931.0,1144.4 L1934.0,1142.3 L1937.0,1140.2 L1940.0,1138.0 L1943.0,1135.9 L1946.0,1133.6 L1949.0,1131.4 L1952.0,1129.2 L1955.0,1126.9 L1958.0,1124.6 L1961.0,1122.2 L1964.0,1119.9 L1967.0,1117.5 L1970.0,1115.1 L1973.0,1112.6 L1976.0,1110.2 L1979.0,1107.7 L1982.0,1105.1 L1985.0,1102.6 L1988.0,1100.0 L1991.0,1097.3 L1994.0,1094.7 L1997.0,1092.0 L2000.0,1089.3 L2003.0,1086.5 L2006.0,1083.7 L2009.0,1080.9 L2012.0,1078.0 L2015.0,1075.1 L2018.0,1072.2 L2021.0,1069.3 L2024.0,1066.3 L2027.0,1063.2 L2030.0,1060.1 L2033.0,1057.0 L2036.0,1053.9 L2039.0,1050.7 L2042.0,1047.5 L2045.0,1044.3 L2048.0,1041.0 L2051.0,1037.7 L2054.0,1034.3 L2057.0,1031.0 L2060.0,1027.5 L2063.0,1024.1 L2066.0,1020.6 L2069.0,1017.1 L2072.0,1013.5 L2075.0,1009.9 L2078.0,1006.3 L2081.0,1002.7 L2084.0,999.0 L2087.0,995.2 L2090.0,991.5 L2093.0,987.7 L2096.0,983.9 L2099.0,980.0 L2102.0,976.1 L2105.0,972.2 L2108.0,968.2 L2111.0,964.2 L2114.0,960.2 L2117.0,956.2 L2120.0,952.1 L2123.0,947.9 L2126.0,943.8 L2129.0,939.6 L2132.0,935.4 L2135.0,931.1 L2138.0,926.8 L2141.0,922.5 L2144.0,918.1 L2147.0,913.7 L2150.0,909.3 L2153.0,904.8 L2156.0,900.2 L2159.0,895.7 L2162.0,891.1 L2165.0,886.4 L2168.0,881.8 L2171.0,877.0 L2174.0,872.3 L2177.0,867.5 L2180.0,862.6 L2183.0,857.7 L2186.0,852.8 L2189.0,847.8 L2192.0,842.8 L2195.0,837.7 L2198.0,832.6 L2201.0,827.4 L2204.0,822.2 L2207.0,817.0 L2210.0,811.7 L2213.0,806.3 L2216.0,800.9 L2219.0,795.4 L2222.0,789.9 L2225.0,784.4 L2228.0,778.8 L2231.0,773.1 L2234.0,767.4 L2237.0,761.7 L2240.0,755.8 L2243.0,750.0 L2246.0,744.0 L2249.0,738.1 L2252.0,732.0 L2255.0,725.9 L2258.0,719.7 L2261.0,713.5 L2264.0,707.2 L2267.0,700.9 L2270.0,694.5 L2273.0,688.0 L2276.0,681.4 L2279.0,674.8 L2282.0,668.1 L2285.0,661.4 L2288.0,654.5 L2291.0,647.6 L2294.0,640.7 L2297.0,633.6 L2300.0,626.5 L2303.0,619.3 L2306.0,612.0 L2309.0,604.6 L2312.0,597.2 L2315.0,589.7 L2318.0,582.1 L2321.0,574.4 L2324.0,566.6 L2327.0,558.7 L2330.0,550.8 L2333.0,542.8 L2336.0,534.6 L2339.0,526.4 L2342.0,518.1 L2345.0,509.7 L2348.0,501.3 L2351.0,492.7 L2354.0,484.0 L2357.0,475.2 L2360.0,466.4 L2363.0,457.4 L2366.0,448.3 L2369.0,439.2 L2372.0,429.9 L2375.0,420.5 L2378.0,411.0 L2381.0,401.5" fill="none" stroke="#ff9c58" stroke-width="6.5" stroke-linejoin="round"/>
<path d="M392.0,1504.5 L395.0,1504.1 L398.0,1502.9 L401.0,1501.8 L404.0,1500.6 L407.0,1499.4 L410.0,1498.3 L413.0,1497.2 L416.0,1496.1 L419.0,1495.0 L422.0,1493.9 L425.0,1492.9 L428.0,1491.8 L431.0,1490.8 L434.0,1489.7 L437.0,1488.7 L440.0,1487.7 L443.0,1486.8 L446.0,1485.8 L449.0,1484.8 L452.0,1483.9 L455.0,1483.0 L458.0,1482.0 L461.0,1481.1 L464.0,1480.2 L467.0,1479.4 L470.0,1478.5 L473.0,1477.6 L476.0,1476.8 L479.0,1475.9 L482.0,1475.1 L485.0,1474.3 L488.0,1473.5 L491.0,1472.7 L494.0,1471.9 L497.0,1471.2 L500.0,1470.4 L503.0,1469.7 L506.0,1468.9 L509.0,1468.2 L512.0,1467.5 L515.0,1466.8 L518.0,1466.1 L521.0,1465.4 L524.0,1464.8 L527.0,1464.1 L530.0,1463.4 L533.0,1462.8 L536.0,1462.2 L539.0,1461.5 L542.0,1460.9 L545.0,1460.3 L548.0,1459.7 L551.0,1459.1 L554.0,1458.6 L557.0,1458.0 L560.0,1457.4 L563.0,1456.9 L566.0,1456.3 L569.0,1455.8 L572.0,1455.3 L575.0,1454.7 L578.0,1454.2 L581.0,1453.7 L584.0,1453.2 L587.0,1452.7 L590.0,1452.3 L593.0,1451.8 L596.0,1451.3 L599.0,1450.8 L602.0,1450.4 L605.0,1449.9 L608.0,1449.5 L611.0,1449.1 L614.0,1448.6 L617.0,1448.2 L620.0,1447.8 L623.0,1447.4 L626.0,1447.0 L629.0,1446.6 L632.0,1446.2 L635.0,1445.8 L638.0,1445.4 L641.0,1445.0 L644.0,1444.7 L647.0,1444.3 L650.0,1443.9 L653.0,1443.6 L656.0,1443.2 L659.0,1442.9 L662.0,1442.5 L665.0,1442.2 L668.0,1441.9 L671.0,1441.5 L674.0,1441.2 L677.0,1440.9 L680.0,1440.5 L683.0,1440.2 L686.0,1439.9 L689.0,1439.6 L692.0,1439.3 L695.0,1439.0 L698.0,1438.7 L701.0,1438.4 L704.0,1438.1 L707.0,1437.8 L710.0,1437.5 L713.0,1437.2 L716.0,1437.0 L719.0,1436.7 L722.0,1436.4 L725.0,1436.1 L728.0,1435.9 L731.0,1435.6 L734.0,1435.3 L737.0,1435.1 L740.0,1434.8 L743.0,1434.6 L746.0,1434.3 L749.0,1434.1 L752.0,1433.8 L755.0,1433.6 L758.0,1433.3 L761.0,1433.1 L764.0,1432.9 L767.0,1432.6 L770.0,1432.4 L773.0,1432.2 L776.0,1432.0 L779.0,1431.7 L782.0,1431.5 L785.0,1431.3 L788.0,1431.1 L791.0,1430.9 L794.0,1430.6 L797.0,1430.4 L800.0,1430.2 L803.0,1430.0 L806.0,1429.8 L809.0,1429.6 L812.0,1429.4 L815.0,1429.2 L818.0,1429.0 L821.0,1428.8 L824.0,1428.6 L827.0,1428.4 L830.0,1428.3 L833.0,1428.1 L836.0,1427.9 L839.0,1427.7 L842.0,1427.5 L845.0,1427.3 L848.0,1427.2 L851.0,1427.0 L854.0,1426.8 L857.0,1426.6 L860.0,1426.5 L863.0,1426.3 L866.0,1426.1 L869.0,1425.9 L872.0,1425.8 L875.0,1425.6 L878.0,1425.4 L881.0,1425.3 L884.0,1425.1 L887.0,1425.0 L890.0,1424.8 L893.0,1424.6 L896.0,1424.5 L899.0,1424.3 L902.0,1424.2 L905.0,1424.0 L908.0,1423.8 L911.0,1423.7 L914.0,1423.5 L917.0,1423.4 L920.0,1423.2 L923.0,1423.1 L926.0,1422.9 L929.0,1422.8 L932.0,1422.6 L935.0,1422.5 L938.0,1422.3 L941.0,1422.2 L944.0,1422.0 L947.0,1421.9 L950.0,1421.7 L953.0,1421.6 L956.0,1421.4 L959.0,1421.3 L962.0,1421.1 L965.0,1421.0 L968.0,1420.9 L971.0,1420.7 L974.0,1420.6 L977.0,1420.4 L980.0,1420.3 L983.0,1420.1 L986.0,1420.0 L989.0,1419.8 L992.0,1419.7 L995.0,1419.5 L998.0,1419.4 L1001.0,1419.2 L1004.0,1419.1 L1007.0,1418.9 L1010.0,1418.8 L1013.0,1418.6 L1016.0,1418.5 L1019.0,1418.3 L1022.0,1418.2 L1025.0,1418.0 L1028.0,1417.9 L1031.0,1417.7 L1034.0,1417.6 L1037.0,1417.4 L1040.0,1417.3 L1043.0,1417.1 L1046.0,1417.0 L1049.0,1416.8 L1052.0,1416.7 L1055.0,1416.5 L1058.0,1416.4 L1061.0,1416.2 L1064.0,1416.0 L1067.0,1415.9 L1070.0,1415.7 L1073.0,1415.6 L1076.0,1415.4 L1079.0,1415.2 L1082.0,1415.1 L1085.0,1414.9 L1088.0,1414.8 L1091.0,1414.6 L1094.0,1414.4 L1097.0,1414.3 L1100.0,1414.1 L1103.0,1413.9 L1106.0,1413.8 L1109.0,1413.6 L1112.0,1413.4 L1115.0,1413.3 L1118.0,1413.1 L1121.0,1412.9 L1124.0,1412.8 L1127.0,1412.6 L1130.0,1412.4 L1133.0,1412.2 L1136.0,1412.1 L1139.0,1411.9 L1142.0,1411.7 L1145.0,1411.5 L1148.0,1411.4 L1151.0,1411.2 L1154.0,1411.0 L1157.0,1410.8 L1160.0,1410.6 L1163.0,1410.5 L1166.0,1410.3 L1169.0,1410.1 L1172.0,1409.9 L1175.0,1409.7 L1178.0,1409.5 L1181.0,1409.4 L1184.0,1409.2 L1187.0,1409.0 L1190.0,1408.8 L1193.0,1408.6 L1196.0,1408.4 L1199.0,1408.2 L1202.0,1408.0 L1205.0,1407.8 L1208.0,1407.6 L1211.0,1407.4 L1214.0,1407.2 L1217.0,1407.0 L1220.0,1406.8 L1223.0,1406.6 L1226.0,1406.4 L1229.0,1406.2 L1232.0,1406.0 L1235.0,1405.8 L1238.0,1405.6 L1241.0,1405.4 L1244.0,1405.1 L1247.0,1404.9 L1250.0,1404.7 L1253.0,1404.5 L1256.0,1404.3 L1259.0,1404.1 L1262.0,1403.8 L1265.0,1403.6 L1268.0,1403.4 L1271.0,1403.2 L1274.0,1402.9 L1277.0,1402.7 L1280.0,1402.5 L1283.0,1402.3 L1286.0,1402.0 L1289.0,1401.8 L1292.0,1401.6 L1295.0,1401.3 L1298.0,1401.1 L1301.0,1400.8 L1304.0,1400.6 L1307.0,1400.4 L1310.0,1400.1 L1313.0,1399.9 L1316.0,1399.6 L1319.0,1399.4 L1322.0,1399.1 L1325.0,1398.9 L1328.0,1398.6 L1331.0,1398.4 L1334.0,1398.1 L1337.0,1397.8 L1340.0,1397.6 L1343.0,1397.3 L1346.0,1397.1 L1349.0,1396.8 L1352.0,1396.5 L1355.0,1396.3 L1358.0,1396.0 L1361.0,1395.7 L1364.0,1395.4 L1367.0,1395.2 L1370.0,1394.9 L1373.0,1394.6 L1376.0,1394.3 L1379.0,1394.1 L1382.0,1393.8 L1385.0,1393.5 L1388.0,1393.2 L1391.0,1392.9 L1394.0,1392.6 L1397.0,1392.3 L1400.0,1392.0 L1403.0,1391.7 L1406.0,1391.4 L1409.0,1391.1 L1412.0,1390.8 L1415.0,1390.5 L1418.0,1390.2 L1421.0,1389.9 L1424.0,1389.6 L1427.0,1389.3 L1430.0,1388.9 L1433.0,1388.6 L1436.0,1388.3 L1439.0,1388.0 L1442.0,1387.7 L1445.0,1387.3 L1448.0,1387.0 L1451.0,1386.7 L1454.0,1386.3 L1457.0,1386.0 L1460.0,1385.7 L1463.0,1385.3 L1466.0,1385.0 L1469.0,1384.6 L1472.0,1384.3 L1475.0,1384.0 L1478.0,1383.6 L1481.0,1383.3 L1484.0,1382.9 L1487.0,1382.5 L1490.0,1382.2 L1493.0,1381.8 L1496.0,1381.5 L1499.0,1381.1 L1502.0,1380.7 L1505.0,1380.3 L1508.0,1380.0 L1511.0,1379.6 L1514.0,1379.2 L1517.0,1378.8 L1520.0,1378.4 L1523.0,1378.1 L1526.0,1377.7 L1529.0,1377.3 L1532.0,1376.9 L1535.0,1376.5 L1538.0,1376.1 L1541.0,1375.6 L1544.0,1375.2 L1547.0,1374.8 L1550.0,1374.4 L1553.0,1374.0 L1556.0,1373.5 L1559.0,1373.1 L1562.0,1372.7 L1565.0,1372.2 L1568.0,1371.8 L1571.0,1371.3 L1574.0,1370.9 L1577.0,1370.4 L1580.0,1370.0 L1583.0,1369.5 L1586.0,1369.0 L1589.0,1368.6 L1592.0,1368.1 L1595.0,1367.6 L1598.0,1367.1 L1601.0,1366.6 L1604.0,1366.1 L1607.0,1365.6 L1610.0,1365.1 L1613.0,1364.6 L1616.0,1364.1 L1619.0,1363.5 L1622.0,1363.0 L1625.0,1362.5 L1628.0,1361.9 L1631.0,1361.4 L1634.0,1360.8 L1637.0,1360.3 L1640.0,1359.7 L1643.0,1359.1 L1646.0,1358.6 L1649.0,1358.0 L1652.0,1357.4 L1655.0,1356.8 L1658.0,1356.2 L1661.0,1355.6 L1664.0,1355.0 L1667.0,1354.4 L1670.0,1353.7 L1673.0,1353.1 L1676.0,1352.5 L1679.0,1351.8 L1682.0,1351.2 L1685.0,1350.5 L1688.0,1349.9 L1691.0,1349.2 L1694.0,1348.5 L1697.0,1347.8 L1700.0,1347.1 L1703.0,1346.4 L1706.0,1345.7 L1709.0,1345.0 L1712.0,1344.3 L1715.0,1343.6 L1718.0,1342.8 L1721.0,1342.1 L1724.0,1341.3 L1727.0,1340.6 L1730.0,1339.8 L1733.0,1339.0 L1736.0,1338.2 L1739.0,1337.5 L1742.0,1336.7 L1745.0,1335.9 L1748.0,1335.0 L1751.0,1334.2 L1754.0,1333.4 L1757.0,1332.5 L1760.0,1331.7 L1763.0,1330.8 L1766.0,1330.0 L1769.0,1329.1 L1772.0,1328.2 L1775.0,1327.3 L1778.0,1326.4 L1781.0,1325.5 L1784.0,1324.6 L1787.0,1323.7 L1790.0,1322.7 L1793.0,1321.8 L1796.0,1320.8 L1799.0,1319.9 L1802.0,1318.9 L1805.0,1317.9 L1808.0,1316.9 L1811.0,1315.9 L1814.0,1314.9 L1817.0,1313.9 L1820.0,1312.9 L1823.0,1311.8 L1826.0,1310.8 L1829.0,1309.7 L1832.0,1308.7 L1835.0,1307.6 L1838.0,1306.5 L1841.0,1305.4 L1844.0,1304.3 L1847.0,1303.1 L1850.0,1302.0 L1853.0,1300.8 L1856.0,1299.7 L1859.0,1298.5 L1862.0,1297.3 L1865.0,1296.1 L1868.0,1294.9 L1871.0,1293.6 L1874.0,1292.4 L1877.0,1291.1 L1880.0,1289.9 L1883.0,1288.6 L1886.0,1287.3 L1889.0,1286.0 L1892.0,1284.6 L1895.0,1283.3 L1898.0,1281.9 L1901.0,1280.6 L1904.0,1279.2 L1907.0,1277.8 L1910.0,1276.3 L1913.0,1274.9 L1916.0,1273.4 L1919.0,1272.0 L1922.0,1270.5 L1925.0,1269.0 L1928.0,1267.5 L1931.0,1265.9 L1934.0,1264.4 L1937.0,1262.8 L1940.0,1261.2 L1943.0,1259.6 L1946.0,1258.0 L1949.0,1256.3 L1952.0,1254.7 L1955.0,1253.0 L1958.0,1251.3 L1961.0,1249.5 L1964.0,1247.8 L1967.0,1246.0 L1970.0,1244.3 L1973.0,1242.5 L1976.0,1240.6 L1979.0,1238.8 L1982.0,1236.9 L1985.0,1235.0 L1988.0,1233.1 L1991.0,1231.2 L1994.0,1229.3 L1997.0,1227.3 L2000.0,1225.3 L2003.0,1223.3 L2006.0,1221.3 L2009.0,1219.2 L2012.0,1217.1 L2015.0,1215.0 L2018.0,1212.9 L2021.0,1210.8 L2024.0,1208.6 L2027.0,1206.4 L2030.0,1204.2 L2033.0,1201.9 L2036.0,1199.7 L2039.0,1197.4 L2042.0,1195.1 L2045.0,1192.7 L2048.0,1190.3 L2051.0,1188.0 L2054.0,1185.5 L2057.0,1183.1 L2060.0,1180.6 L2063.0,1178.1 L2066.0,1175.6 L2069.0,1173.1 L2072.0,1170.5 L2075.0,1167.9 L2078.0,1165.3 L2081.0,1162.6 L2084.0,1159.9 L2087.0,1157.2 L2090.0,1154.5 L2093.0,1151.7 L2096.0,1149.0 L2099.0,1146.1 L2102.0,1143.3 L2105.0,1140.4 L2108.0,1137.5 L2111.0,1134.6 L2114.0,1131.6 L2117.0,1128.6 L2120.0,1125.6 L2123.0,1122.5 L2126.0,1119.4 L2129.0,1116.3 L2132.0,1113.1 L2135.0,1109.9 L2138.0,1106.7 L2141.0,1103.4 L2144.0,1100.1 L2147.0,1096.8 L2150.0,1093.4 L2153.0,1090.0 L2156.0,1086.6 L2159.0,1083.1 L2162.0,1079.6 L2165.0,1076.0 L2168.0,1072.4 L2171.0,1068.8 L2174.0,1065.1 L2177.0,1061.4 L2180.0,1057.6 L2183.0,1053.8 L2186.0,1050.0 L2189.0,1046.1 L2192.0,1042.1 L2195.0,1038.2 L2198.0,1034.2 L2201.0,1030.1 L2204.0,1026.0 L2207.0,1021.9 L2210.0,1017.7 L2213.0,1013.5 L2216.0,1009.2 L2219.0,1004.9 L2222.0,1000.6 L2225.0,996.2 L2228.0,991.8 L2231.0,987.4 L2234.0,982.9 L2237.0,978.4 L2240.0,973.9 L2243.0,969.4 L2246.0,964.8 L2249.0,960.3 L2252.0,955.6 L2255.0,951.0 L2258.0,946.3 L2261.0,941.7 L2264.0,936.9 L2267.0,932.2 L2270.0,927.4 L2273.0,922.6 L2276.0,917.7 L2279.0,912.9 L2282.0,907.9 L2285.0,903.0 L2288.0,898.0 L2291.0,893.0 L2294.0,887.9 L2297.0,882.8 L2300.0,877.6 L2303.0,872.4 L2306.0,867.2 L2309.0,861.9 L2312.0,856.6 L2315.0,851.2 L2318.0,845.8 L2321.0,840.3 L2324.0,834.8 L2327.0,829.2 L2330.0,823.6 L2333.0,817.9 L2336.0,812.2 L2339.0,806.4 L2342.0,800.5 L2345.0,794.5 L2348.0,788.5 L2351.0,782.3 L2354.0,775.9 L2357.0,769.5 L2360.0,762.9 L2363.0,756.1 L2366.0,749.2 L2369.0,742.1 L2372.0,734.8 L2375.0,727.3 L2378.0,719.5 L2381.0,711.6" fill="none" stroke="#00a6ff" stroke-width="6.5" stroke-linejoin="round"/>
<path d="M392.0,1504.5 L395.0,1504.6 L398.0,1504.1 L401.0,1503.6 L404.0,1503.0 L407.0,1502.5 L410.0,1501.9 L413.0,1501.2 L416.0,1500.6 L419.0,1499.9 L422.0,1499.2 L425.0,1498.5 L428.0,1497.8 L431.0,1497.1 L434.0,1496.3 L437.0,1495.5 L440.0,1494.7 L443.0,1494.0 L446.0,1493.2 L449.0,1492.4 L452.0,1491.6 L455.0,1490.7 L458.0,1489.9 L461.0,1489.1 L464.0,1488.3 L467.0,1487.5 L470.0,1486.7 L473.0,1485.9 L476.0,1485.2 L479.0,1484.4 L482.0,1483.6 L485.0,1482.9 L488.0,1482.2 L491.0,1481.5 L494.0,1480.8 L497.0,1480.1 L500.0,1479.4 L503.0,1478.8 L506.0,1478.2 L509.0,1477.6 L512.0,1477.0 L515.0,1476.5 L518.0,1475.9 L521.0,1475.4 L524.0,1474.9 L527.0,1474.4 L530.0,1473.9 L533.0,1473.4 L536.0,1473.0 L539.0,1472.5 L542.0,1472.1 L545.0,1471.7 L548.0,1471.3 L551.0,1470.9 L554.0,1470.5 L557.0,1470.1 L560.0,1469.8 L563.0,1469.4 L566.0,1469.1 L569.0,1468.8 L572.0,1468.4 L575.0,1468.1 L578.0,1467.8 L581.0,1467.5 L584.0,1467.2 L587.0,1467.0 L590.0,1466.7 L593.0,1466.4 L596.0,1466.2 L599.0,1465.9 L602.0,1465.6 L605.0,1465.4 L608.0,1465.1 L611.0,1464.9 L614.0,1464.7 L617.0,1464.4 L620.0,1464.2 L623.0,1464.0 L626.0,1463.7 L629.0,1463.5 L632.0,1463.3 L635.0,1463.0 L638.0,1462.8 L641.0,1462.6 L644.0,1462.4 L647.0,1462.1 L650.0,1461.9 L653.0,1461.7 L656.0,1461.5 L659.0,1461.3 L662.0,1461.1 L665.0,1460.9 L668.0,1460.6 L671.0,1460.4 L674.0,1460.2 L677.0,1460.0 L680.0,1459.8 L683.0,1459.6 L686.0,1459.4 L689.0,1459.2 L692.0,1459.0 L695.0,1458.8 L698.0,1458.6 L701.0,1458.4 L704.0,1458.2 L707.0,1458.0 L710.0,1457.9 L713.0,1457.7 L716.0,1457.5 L719.0,1457.3 L722.0,1457.1 L725.0,1456.9 L728.0,1456.7 L731.0,1456.6 L734.0,1456.4 L737.0,1456.2 L740.0,1456.0 L743.0,1455.9 L746.0,1455.7 L749.0,1455.5 L752.0,1455.3 L755.0,1455.2 L758.0,1455.0 L761.0,1454.8 L764.0,1454.7 L767.0,1454.5 L770.0,1454.3 L773.0,1454.2 L776.0,1454.0 L779.0,1453.8 L782.0,1453.7 L785.0,1453.5 L788.0,1453.3 L791.0,1453.2 L794.0,1453.0 L797.0,1452.9 L800.0,1452.7 L803.0,1452.6 L806.0,1452.4 L809.0,1452.3 L812.0,1452.1 L815.0,1452.0 L818.0,1451.8 L821.0,1451.7 L824.0,1451.5 L827.0,1451.4 L830.0,1451.2 L833.0,1451.1 L836.0,1450.9 L839.0,1450.8 L842.0,1450.6 L845.0,1450.5 L848.0,1450.4 L851.0,1450.2 L854.0,1450.1 L857.0,1449.9 L860.0,1449.8 L863.0,1449.7 L866.0,1449.5 L869.0,1449.4 L872.0,1449.3 L875.0,1449.1 L878.0,1449.0 L881.0,1448.9 L884.0,1448.7 L887.0,1448.6 L890.0,1448.5 L893.0,1448.3 L896.0,1448.2 L899.0,1448.1 L902.0,1448.0 L905.0,1447.8 L908.0,1447.7 L911.0,1447.6 L914.0,1447.5 L917.0,1447.3 L920.0,1447.2 L923.0,1447.1 L926.0,1447.0 L929.0,1446.8 L932.0,1446.7 L935.0,1446.6 L938.0,1446.5 L941.0,1446.4 L944.0,1446.2 L947.0,1446.1 L950.0,1446.0 L953.0,1445.9 L956.0,1445.8 L959.0,1445.6 L962.0,1445.5 L965.0,1445.4 L968.0,1445.3 L971.0,1445.2 L974.0,1445.0 L977.0,1444.9 L980.0,1444.8 L983.0,1444.7 L986.0,1444.6 L989.0,1444.5 L992.0,1444.3 L995.0,1444.2 L998.0,1444.1 L1001.0,1444.0 L1004.0,1443.9 L1007.0,1443.8 L1010.0,1443.6 L1013.0,1443.5 L1016.0,1443.4 L1019.0,1443.3 L1022.0,1443.2 L1025.0,1443.1 L1028.0,1443.0 L1031.0,1442.8 L1034.0,1442.7 L1037.0,1442.6 L1040.0,1442.5 L1043.0,1442.4 L1046.0,1442.3 L1049.0,1442.1 L1052.0,1442.0 L1055.0,1441.9 L1058.0,1441.8 L1061.0,1441.7 L1064.0,1441.6 L1067.0,1441.4 L1070.0,1441.3 L1073.0,1441.2 L1076.0,1441.1 L1079.0,1441.0 L1082.0,1440.9 L1085.0,1440.7 L1088.0,1440.6 L1091.0,1440.5 L1094.0,1440.4 L1097.0,1440.3 L1100.0,1440.1 L1103.0,1440.0 L1106.0,1439.9 L1109.0,1439.8 L1112.0,1439.7 L1115.0,1439.5 L1118.0,1439.4 L1121.0,1439.3 L1124.0,1439.2 L1127.0,1439.0 L1130.0,1438.9 L1133.0,1438.8 L1136.0,1438.7 L1139.0,1438.5 L1142.0,1438.4 L1145.0,1438.3 L1148.0,1438.1 L1151.0,1438.0 L1154.0,1437.9 L1157.0,1437.8 L1160.0,1437.6 L1163.0,1437.5 L1166.0,1437.4 L1169.0,1437.2 L1172.0,1437.1 L1175.0,1437.0 L1178.0,1436.8 L1181.0,1436.7 L1184.0,1436.6 L1187.0,1436.4 L1190.0,1436.3 L1193.0,1436.1 L1196.0,1436.0 L1199.0,1435.9 L1202.0,1435.7 L1205.0,1435.6 L1208.0,1435.4 L1211.0,1435.3 L1214.0,1435.1 L1217.0,1435.0 L1220.0,1434.8 L1223.0,1434.7 L1226.0,1434.5 L1229.0,1434.4 L1232.0,1434.2 L1235.0,1434.1 L1238.0,1433.9 L1241.0,1433.8 L1244.0,1433.6 L1247.0,1433.5 L1250.0,1433.3 L1253.0,1433.1 L1256.0,1433.0 L1259.0,1432.8 L1262.0,1432.7 L1265.0,1432.5 L1268.0,1432.3 L1271.0,1432.2 L1274.0,1432.0 L1277.0,1431.8 L1280.0,1431.7 L1283.0,1431.5 L1286.0,1431.3 L1289.0,1431.1 L1292.0,1431.0 L1295.0,1430.8 L1298.0,1430.6 L1301.0,1430.4 L1304.0,1430.3 L1307.0,1430.1 L1310.0,1429.9 L1313.0,1429.7 L1316.0,1429.5 L1319.0,1429.3 L1322.0,1429.1 L1325.0,1428.9 L1328.0,1428.8 L1331.0,1428.6 L1334.0,1428.4 L1337.0,1428.2 L1340.0,1428.0 L1343.0,1427.8 L1346.0,1427.6 L1349.0,1427.4 L1352.0,1427.2 L1355.0,1426.9 L1358.0,1426.7 L1361.0,1426.5 L1364.0,1426.3 L1367.0,1426.1 L1370.0,1425.9 L1373.0,1425.7 L1376.0,1425.5 L1379.0,1425.2 L1382.0,1425.0 L1385.0,1424.8 L1388.0,1424.6 L1391.0,1424.3 L1394.0,1424.1 L1397.0,1423.9 L1400.0,1423.6 L1403.0,1423.4 L1406.0,1423.2 L1409.0,1422.9 L1412.0,1422.7 L1415.0,1422.4 L1418.0,1422.2 L1421.0,1422.0 L1424.0,1421.7 L1427.0,1421.5 L1430.0,1421.2 L1433.0,1420.9 L1436.0,1420.7 L1439.0,1420.4 L1442.0,1420.2 L1445.0,1419.9 L1448.0,1419.6 L1451.0,1419.4 L1454.0,1419.1 L1457.0,1418.8 L1460.0,1418.6 L1463.0,1418.3 L1466.0,1418.0 L1469.0,1417.7 L1472.0,1417.4 L1475.0,1417.2 L1478.0,1416.9 L1481.0,1416.6 L1484.0,1416.3 L1487.0,1416.0 L1490.0,1415.7 L1493.0,1415.4 L1496.0,1415.1 L1499.0,1414.8 L1502.0,1414.5 L1505.0,1414.2 L1508.0,1413.9 L1511.0,1413.6 L1514.0,1413.2 L1517.0,1412.9 L1520.0,1412.6 L1523.0,1412.3 L1526.0,1412.0 L1529.0,1411.6 L1532.0,1411.3 L1535.0,1411.0 L1538.0,1410.6 L1541.0,1410.3 L1544.0,1410.0 L1547.0,1409.6 L1550.0,1409.3 L1553.0,1408.9 L1556.0,1408.6 L1559.0,1408.2 L1562.0,1407.9 L1565.0,1407.5 L1568.0,1407.1 L1571.0,1406.8 L1574.0,1406.4 L1577.0,1406.0 L1580.0,1405.7 L1583.0,1405.3 L1586.0,1404.9 L1589.0,1404.5 L1592.0,1404.2 L1595.0,1403.8 L1598.0,1403.4 L1601.0,1403.0 L1604.0,1402.6 L1607.0,1402.2 L1610.0,1401.8 L1613.0,1401.4 L1616.0,1401.0 L1619.0,1400.6 L1622.0,1400.2 L1625.0,1399.7 L1628.0,1399.3 L1631.0,1398.9 L1634.0,1398.5 L1637.0,1398.1 L1640.0,1397.6 L1643.0,1397.2 L1646.0,1396.7 L1649.0,1396.3 L1652.0,1395.9 L1655.0,1395.4 L1658.0,1394.9 L1661.0,1394.5 L1664.0,1394.0 L1667.0,1393.5 L1670.0,1393.1 L1673.0,1392.6 L1676.0,1392.1 L1679.0,1391.6 L1682.0,1391.1 L1685.0,1390.6 L1688.0,1390.1 L1691.0,1389.6 L1694.0,1389.1 L1697.0,1388.5 L1700.0,1388.0 L1703.0,1387.5 L1706.0,1386.9 L1709.0,1386.4 L1712.0,1385.8 L1715.0,1385.2 L1718.0,1384.7 L1721.0,1384.1 L1724.0,1383.5 L1727.0,1382.9 L1730.0,1382.3 L1733.0,1381.7 L1736.0,1381.0 L1739.0,1380.4 L1742.0,1379.8 L1745.0,1379.1 L1748.0,1378.5 L1751.0,1377.8 L1754.0,1377.1 L1757.0,1376.4 L1760.0,1375.7 L1763.0,1375.0 L1766.0,1374.3 L1769.0,1373.6 L1772.0,1372.9 L1775.0,1372.1 L1778.0,1371.4 L1781.0,1370.6 L1784.0,1369.8 L1787.0,1369.0 L1790.0,1368.2 L1793.0,1367.4 L1796.0,1366.6 L1799.0,1365.8 L1802.0,1364.9 L1805.0,1364.1 L1808.0,1363.2 L1811.0,1362.3 L1814.0,1361.5 L1817.0,1360.6 L1820.0,1359.6 L1823.0,1358.7 L1826.0,1357.8 L1829.0,1356.8 L1832.0,1355.9 L1835.0,1354.9 L1838.0,1353.9 L1841.0,1352.9 L1844.0,1351.9 L1847.0,1350.9 L1850.0,1349.9 L1853.0,1348.9 L1856.0,1347.9 L1859.0,1346.8 L1862.0,1345.7 L1865.0,1344.7 L1868.0,1343.6 L1871.0,1342.5 L1874.0,1341.4 L1877.0,1340.3 L1880.0,1339.2 L1883.0,1338.1 L1886.0,1337.0 L1889.0,1335.9 L1892.0,1334.7 L1895.0,1333.6 L1898.0,1332.4 L1901.0,1331.3 L1904.0,1330.1 L1907.0,1328.9 L1910.0,1327.7 L1913.0,1326.6 L1916.0,1325.4 L1919.0,1324.2 L1922.0,1323.0 L1925.0,1321.8 L1928.0,1320.5 L1931.0,1319.3 L1934.0,1318.1 L1937.0,1316.9 L1940.0,1315.6 L1943.0,1314.4 L1946.0,1313.1 L1949.0,1311.9 L1952.0,1310.6 L1955.0,1309.4 L1958.0,1308.1 L1961.0,1306.8 L1964.0,1305.5 L1967.0,1304.2 L1970.0,1302.9 L1973.0,1301.6 L1976.0,1300.2 L1979.0,1298.9 L1982.0,1297.5 L1985.0,1296.1 L1988.0,1294.8 L1991.0,1293.4 L1994.0,1292.0 L1997.0,1290.6 L2000.0,1289.1 L2003.0,1287.7 L2006.0,1286.2 L2009.0,1284.7 L2012.0,1283.2 L2015.0,1281.7 L2018.0,1280.2 L2021.0,1278.7 L2024.0,1277.1 L2027.0,1275.5 L2030.0,1273.9 L2033.0,1272.3 L2036.0,1270.7 L2039.0,1269.1 L2042.0,1267.4 L2045.0,1265.7 L2048.0,1264.0 L2051.0,1262.3 L2054.0,1260.5 L2057.0,1258.8 L2060.0,1257.0 L2063.0,1255.1 L2066.0,1253.3 L2069.0,1251.5 L2072.0,1249.6 L2075.0,1247.7 L2078.0,1245.7 L2081.0,1243.8 L2084.0,1241.8 L2087.0,1239.8 L2090.0,1237.8 L2093.0,1235.7 L2096.0,1233.6 L2099.0,1231.5 L2102.0,1229.4 L2105.0,1227.2 L2108.0,1225.0 L2111.0,1222.8 L2114.0,1220.5 L2117.0,1218.3 L2120.0,1216.0 L2123.0,1213.6 L2126.0,1211.2 L2129.0,1208.8 L2132.0,1206.4 L2135.0,1204.0 L2138.0,1201.5 L2141.0,1198.9 L2144.0,1196.4 L2147.0,1193.8 L2150.0,1191.1 L2153.0,1188.5 L2156.0,1185.8 L2159.0,1183.0 L2162.0,1180.3 L2165.0,1177.5 L2168.0,1174.6 L2171.0,1171.8 L2174.0,1168.8 L2177.0,1165.9 L2180.0,1162.9 L2183.0,1159.9 L2186.0,1156.8 L2189.0,1153.7 L2192.0,1150.6 L2195.0,1147.4 L2198.0,1144.2 L2201.0,1141.0 L2204.0,1137.7 L2207.0,1134.4 L2210.0,1131.1 L2213.0,1127.8 L2216.0,1124.4 L2219.0,1120.9 L2222.0,1117.5 L2225.0,1114.0 L2228.0,1110.5 L2231.0,1106.9 L2234.0,1103.3 L2237.0,1099.7 L2240.0,1096.1 L2243.0,1092.4 L2246.0,1088.7 L2249.0,1085.0 L2252.0,1081.3 L2255.0,1077.5 L2258.0,1073.7 L2261.0,1069.9 L2264.0,1066.0 L2267.0,1062.1 L2270.0,1058.2 L2273.0,1054.3 L2276.0,1050.4 L2279.0,1046.4 L2282.0,1042.4 L2285.0,1038.4 L2288.0,1034.3 L2291.0,1030.3 L2294.0,1026.2 L2297.0,1022.1 L2300.0,1018.0 L2303.0,1013.8 L2306.0,1009.7 L2309.0,1005.5 L2312.0,1001.3 L2315.0,997.0 L2318.0,992.8 L2321.0,988.5 L2324.0,984.3 L2327.0,980.0 L2330.0,975.6 L2333.0,971.3 L2336.0,966.9 L2339.0,962.4 L2342.0,957.9 L2345.0,953.4 L2348.0,948.8 L2351.0,944.1 L2354.0,939.4 L2357.0,934.6 L2360.0,929.7 L2363.0,924.7 L2366.0,919.7 L2369.0,914.5 L2372.0,909.3 L2375.0,904.0 L2378.0,898.5 L2381.0,893.0" fill="none" stroke="#7ee600" stroke-width="6.5" stroke-linejoin="round"/>
</g>
<g font-size="83" text-anchor="end">
<text x="359" y="1529.0">0</text>
<text x="359" y="1238.4">50</text>
<text x="359" y="947.8">100</text>
<text x="359" y="657.2">150</text>
<text x="359" y="366.6">200</text>
<text x="359" y="76.0">250</text>
</g>
<g font-size="83" text-anchor="middle">
<text x="391.0" y="1603">0.0</text>
<text x="809.7" y="1603">0.2</text>
<text x="1228.4" y="1603">0.4</text>
<text x="1647.1" y="1603">0.6</text>
<text x="2065.8" y="1603">0.8</text>
</g>
<text x="1414" y="1740" font-size="118" text-anchor="middle">Strain (mm/mm)</text>
<text transform="translate(117,778) rotate(-90)" font-size="118" text-anchor="middle">Stress (MPa)</text>
<g id="legend">
<use href="#msq" x="554" y="139"/>
<rect x="463" y="267.7" width="184" height="7" fill="#800080"/>
<use href="#mci" x="554" y="369.5"/>
<rect x="463" y="498.1" width="182" height="7.5" fill="#ff9c58"/>
<use href="#mut" x="554" y="593.8"/>
<rect x="463" y="727" width="182" height="8" fill="#00a6ff"/>
<use href="#mdt" x="554" y="834"/>
<rect x="463" y="956.5" width="182" height="7.5" fill="#7ee600"/>
<g transform="translate(0,168.4) scale(1,1.02)"><text x="663.6" y="0" font-size="77.2">Measured Results ρ</text><text x="1390" y="23.1" font-size="55">r</text><text x="1410.9" y="0" font-size="77.2">=0.522</text></g>
<g transform="translate(0,299.3) scale(1,1.02)"><text x="663.6" y="0" font-size="77.2">Simulation Results R</text><text x="1434" y="-35.9" font-size="50">2</text><text x="1460.5" y="0" font-size="77.2">=0.9724</text></g>
<g transform="translate(0,396.9) scale(1,1.02)"><text x="663.6" y="0" font-size="77.2">Measured Results ρ</text><text x="1390" y="23.1" font-size="55">r</text><text x="1410.9" y="0" font-size="77.2">=0.320</text></g>
<g transform="translate(0,527.7) scale(1,1.02)"><text x="663.6" y="0" font-size="77.2">Simulation Results R</text><text x="1434" y="-35.9" font-size="50">2</text><text x="1460.5" y="0" font-size="77.2">=0.9877</text></g>
<g transform="translate(0,626.5) scale(1,1.02)"><text x="663.6" y="0" font-size="77.2">Measured Results ρ</text><text x="1390" y="23.1" font-size="55">r</text><text x="1410.9" y="0" font-size="77.2">=0.242</text></g>
<g transform="translate(0,756.9) scale(1,1.02)"><text x="663.6" y="0" font-size="77.2">Simulation Results R</text><text x="1434" y="-35.9" font-size="50">2</text><text x="1460.5" y="0" font-size="77.2">=0.9977</text></g>
<g transform="translate(0,854.8) scale(1,1.02)"><text x="663.6" y="0" font-size="77.2">Measured Results ρ</text><text x="1390" y="23.1" font-size="55">r</text><text x="1410.9" y="0" font-size="77.2">=0.200</text></g>
<g transform="translate(0,986.4) scale(1,1.02)"><text x="663.6" y="0" font-size="77.2">Simulation Results R</text><text x="1434" y="-35.9" font-size="50">2</text><text x="1460.5" y="0" font-size="77.2">=0.9985</text></g>
</g>
</svg>
</body></html>
